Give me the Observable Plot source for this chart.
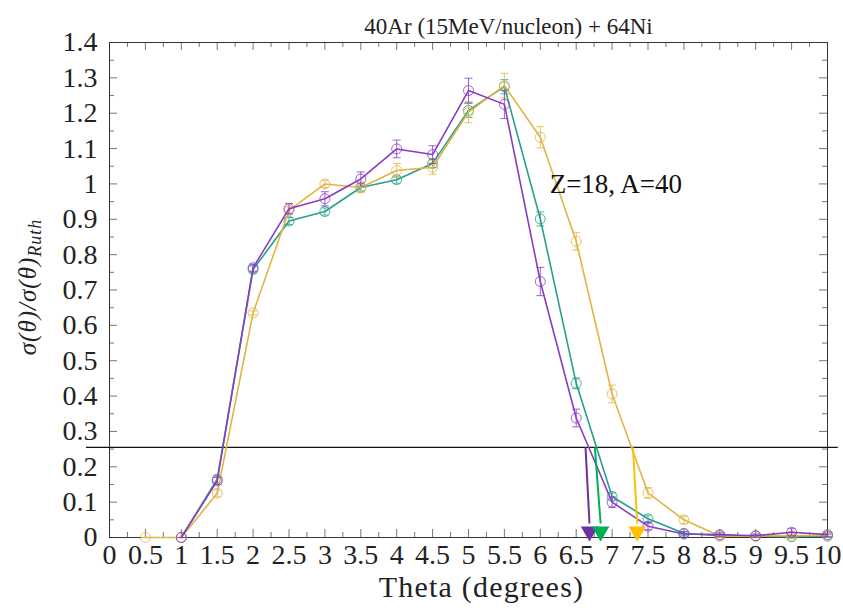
<!DOCTYPE html>
<html>
<head>
<meta charset="utf-8">
<script src="https://cdn.jsdelivr.net/npm/d3@7"></script>
<script src="https://cdn.jsdelivr.net/npm/@observablehq/plot@0.6"></script>
<style>
  html, body { margin: 0; padding: 0; background: #fff; }
  #chart svg { display: block; }
</style>
</head>
<body>
<div id="chart"></div>
<script>
// ---- data ----
const theta = [0.5, 1, 1.5, 2, 2.5, 3, 3.5, 4, 4.5, 5, 5.5, 6, 6.5, 7, 7.5, 8, 8.5, 9, 9.5, 10];

const purpleRatio = [null, 0, 0.16, 0.763, 0.93, 0.958, 1.014, 1.099, 1.083, 1.264, 1.225, 0.724, 0.338, 0.100, 0.032, 0.010, 0.008, 0.005, 0.015, 0.008];
const purpleErr   = [null, 0, 0.010, 0.010, 0.015, 0.020, 0.020, 0.025, 0.025, 0.035, 0.040, 0.040, 0.025, 0.015, 0.010, 0.006, 0.005, 0.005, 0.010, 0.005];

const greenRatio  = [null, 0, 0.165, 0.758, 0.895, 0.922, 0.990, 1.012, 1.058, 1.208, 1.275, 0.901, 0.436, 0.116, 0.053, 0.012, 0.005, 0.004, 0.002, 0.004];
const greenErr    = [null, 0, 0.010, 0.010, 0.010, 0.010, 0.010, 0.010, 0.012, 0.020, 0.020, 0.020, 0.015, 0.010, 0.010, 0.005, 0.004, 0.004, 0.004, 0.004];

const yellowRatio = [0, 0, 0.125, 0.635, 0.925, 1.000, 0.990, 1.038, 1.047, 1.203, 1.278, 1.132, 0.838, 0.406, 0.126, 0.050, 0.004, 0.004, 0.005, 0.006];
const yellowErr   = [0, 0, 0.010, 0.006, 0.010, 0.010, 0.015, 0.020, 0.020, 0.030, 0.035, 0.030, 0.025, 0.025, 0.015, 0.010, 0.004, 0.004, 0.004, 0.004];

const seriesNames  = ["green", "yellow", "purple"];
const seriesColors = ["#27a088", "#e2b443", "#8a3cc4"];

// threshold line and arrows (theta where each curve crosses the threshold)
const threshold   = [0.255];
const arrowTop    = [6.63, 6.76, 7.29];
const arrowTip    = [6.685, 6.84, 7.35];
const arrowColors = ["#7030a0", "#00b050", "#ffc000"];

// ticks
const xTicks      = [0, 0.5, 1, 1.5, 2, 2.5, 3, 3.5, 4, 4.5, 5, 5.5, 6, 6.5, 7, 7.5, 8, 8.5, 9, 9.5, 10];
const xTickLabels = ["0", "0.5", "1", "1.5", "2", "2.5", "3", "3.5", "4", "4.5", "5", "5.5", "6", "6.5", "7", "7.5", "8", "8.5", "9", "9.5", "10"];
const xMinorTicks = [0.25, 0.75, 1.25, 1.75, 2.25, 2.75, 3.25, 3.75, 4.25, 4.75, 5.25, 5.75, 6.25, 6.75, 7.25, 7.75, 8.25, 8.75, 9.25, 9.75];
const yTicks      = [0, 0.1, 0.2, 0.3, 0.4, 0.5, 0.6, 0.7, 0.8, 0.9, 1, 1.1, 1.2, 1.3, 1.4];
const yTickLabels = ["0", "0.1", "0.2", "0.3", "0.4", "0.5", "0.6", "0.7", "0.8", "0.9", "1", "1.1", "1.2", "1.3", "1.4"];
const yMinorTicks = [0.05, 0.15, 0.25, 0.35, 0.45, 0.55, 0.65, 0.75, 0.85, 0.95, 1.05, 1.15, 1.25, 1.35];

const titleText  = "40Ar (15MeV/nucleon) + 64Ni";
const annotation = "Z=18, A=40";
const xLabel     = "Theta (degrees)";
const yLabelMain = "σ(θ)/σ(θ)";
const yLabelSub  = "Ruth";

// ---- layout ----
const W = 843, H = 612;
const mL = 109, mR = 16, mT = 42, mB = 75;
const xDom = [0, 10], yDom = [0, 1.4];
const pxX = (xDom[1] - xDom[0]) / (W - mL - mR); // data units per pixel
const pxY = (yDom[1] - yDom[0]) / (H - mT - mB);
const majorLen = 8, minorLen = 5;
const serif = "'Liberation Serif', 'DejaVu Serif', serif";

// ---- build tables ----
const ratios = {green: greenRatio, yellow: yellowRatio, purple: purpleRatio};
const errs   = {green: greenErr, yellow: yellowErr, purple: purpleErr};

const capSymbol = {
  draw(ctx, size) {
    const r = Math.sqrt(size / Math.PI);
    ctx.moveTo(-r, 0);
    ctx.lineTo(r, 0);
  }
};

const seriesMarks = seriesNames.flatMap((name, k) => {
  const rows = theta.map((t, i) => ({theta: t, v: ratios[name][i], e: errs[name][i]}))
                    .filter(d => d.v != null);
  const c = seriesColors[k];
  return [
    Plot.line(rows, {x: "theta", y: "v", stroke: c, strokeWidth: 1.6}),
    Plot.link(rows, {x1: "theta", x2: "theta", y1: d => d.v - d.e, y2: d => d.v + d.e, stroke: c, strokeWidth: 1, strokeOpacity: 0.8}),
    Plot.dot(rows, {x: "theta", y: d => d.v - d.e, symbol: capSymbol, r: 4, stroke: c, fill: "none", strokeWidth: 1, strokeOpacity: 0.8}),
    Plot.dot(rows, {x: "theta", y: d => d.v + d.e, symbol: capSymbol, r: 4, stroke: c, fill: "none", strokeWidth: 1, strokeOpacity: 0.8}),
    Plot.dot(rows, {x: "theta", y: "v", r: 5, stroke: c, fill: "none", strokeWidth: 1, strokeOpacity: 0.8})
  ];
});

const arrows = arrowTop.map((t, i) => ({x1: t, x2: arrowTip[i], y1: threshold[0], color: arrowColors[i]}));

const tickColor = "#777";

const chart = Plot.plot({
  width: W, height: H,
  marginLeft: mL, marginRight: mR, marginTop: mT, marginBottom: mB,
  x: {domain: xDom},
  y: {domain: yDom},
  style: {fontFamily: serif, background: "#fff", color: "#222"},
  marks: [
    // inward ticks on all four sides
    Plot.ruleX(xTicks, {x: d => d, y1: 0, y2: majorLen * pxY, stroke: tickColor}),
    Plot.ruleX(xMinorTicks, {x: d => d, y1: 0, y2: minorLen * pxY, stroke: tickColor}),
    Plot.ruleX(xTicks, {x: d => d, y1: yDom[1], y2: yDom[1] - majorLen * pxY, stroke: tickColor}),
    Plot.ruleX(xMinorTicks, {x: d => d, y1: yDom[1], y2: yDom[1] - minorLen * pxY, stroke: tickColor}),
    Plot.ruleY(yTicks, {y: d => d, x1: 0, x2: majorLen * pxX, stroke: tickColor}),
    Plot.ruleY(yMinorTicks, {y: d => d, x1: 0, x2: minorLen * pxX, stroke: tickColor}),
    Plot.ruleY(yTicks, {y: d => d, x1: xDom[1], x2: xDom[1] - majorLen * pxX, stroke: tickColor}),
    Plot.ruleY(yMinorTicks, {y: d => d, x1: xDom[1], x2: xDom[1] - minorLen * pxX, stroke: tickColor}),
    Plot.frame({stroke: "#333", strokeWidth: 1}),
    Plot.axisX({ticks: xTicks, tickFormat: (d, i) => xTickLabels[i], tickSize: 0, tickPadding: 7, fontSize: 28, fontFamily: serif, label: null, fill: "#222"}),
    Plot.axisY({ticks: yTicks, tickFormat: (d, i) => yTickLabels[i], tickSize: 0, tickPadding: 12, fontSize: 28, fontFamily: serif, label: null, fill: "#222"}),
    // threshold line
    Plot.ruleY(threshold, {y: d => d, x1: -0.32, x2: 10.15, stroke: "#111", strokeWidth: 1.3}),
    ...seriesMarks,
    // arrows
    Plot.link(arrows, {x1: "x1", x2: "x2", y1: "y1", y2: d => 14 * pxY, stroke: "color", strokeWidth: 2}),
    Plot.dot(arrows, {x: "x2", y: d => 0, symbol: "triangle", rotate: 180, r: 6.5, dy: -6, fill: "color", stroke: "none"}),
    // texts
    Plot.text([titleText], {text: d => d, frameAnchor: "top", dx: 40, dy: -25, fontSize: 23, fontFamily: serif, fill: "#222"}),
    Plot.text([annotation], {x: d => 6.13, y: d => 1.0, text: d => d, textAnchor: "start", fontSize: 27, fontFamily: serif, fill: "#111"}),
    Plot.text([xLabel], {text: d => d, frameAnchor: "bottom", dx: 13, dy: 59, fontSize: 30, fontFamily: serif, fill: "#222"})
  ]
});

document.getElementById("chart").appendChild(chart);

const svg = d3.select(chart);
// widen the x label a little, as the reference's Computer Modern face is wider
svg.selectAll("text").filter(function () { return this.textContent === xLabel; })
  .style("letter-spacing", "1.2px");

// y-axis label with subscript
const yl = svg.append("text")
  .attr("transform", "translate(36,287) rotate(-90)")
  .attr("text-anchor", "middle")
  .attr("font-size", 25)
  .attr("fill", "#222")
  .attr("font-family", serif)
  .attr("font-style", "italic")
  .style("letter-spacing", "1px");
yl.append("tspan").text(yLabelMain);
yl.append("tspan").attr("font-size", 18).attr("dy", 5).text(yLabelSub);
</script>
</body>
</html>
